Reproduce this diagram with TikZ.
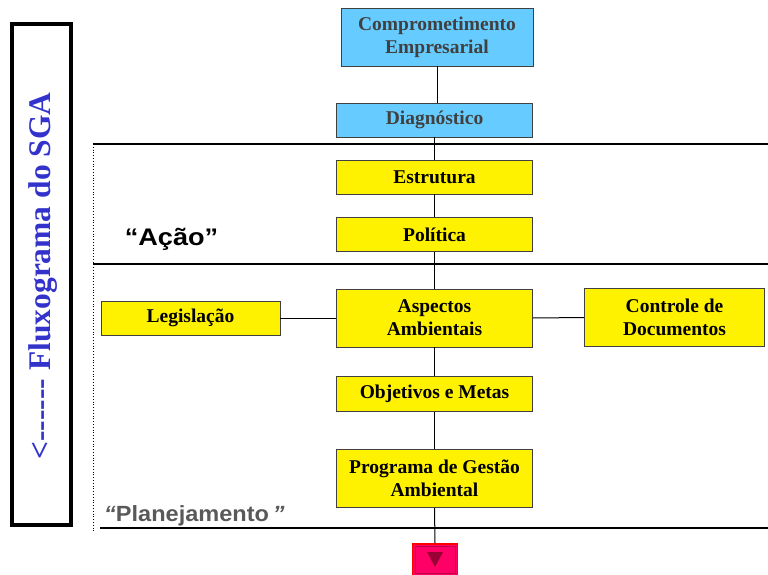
\documentclass[tikz,border=0pt]{standalone}
\usepackage{fontspec}
\setmainfont{Liberation Serif}
\newfontfamily\arialf{Liberation Sans}
\begin{document}
\begin{tikzpicture}[x=1pt,y=-1pt,
  boxbase/.style={draw=black!75,line width=0.9pt,inner sep=0pt,align=center,
    font=\bfseries\fontsize{19.5}{23}\selectfont},
  bluebox/.style={boxbase,fill=skyb,text=txtgray},
  yelbox/.style={boxbase,fill=yellow,text=black},
  conn/.style={draw=black,line width=1pt},
  sepline/.style={draw=black,line width=1.6pt}]
\definecolor{skyb}{HTML}{66CCFF}
\definecolor{txtgray}{HTML}{404040}
\definecolor{sgablue}{HTML}{3333CC}
\definecolor{plgray}{HTML}{595959}
\definecolor{redbox}{HTML}{FF0066}
\definecolor{redtri}{HTML}{990033}
\useasboundingbox (0,0) rectangle (768,575);
% left framed title
\node[draw=black,line width=4pt,minimum width=59pt,minimum height=501pt,inner sep=0pt] (frame) at (41.5,274.5) {};
\node[rotate=90,text=sgablue,font=\bfseries\fontsize{31.5}{34}\selectfont] (title) at (43,276) {<{-}{-}{-}{-}{-}{-} Fluxograma do SGA};
% separators
\coordinate (s1a) at (93,144); \coordinate (s1b) at (768,144);
\coordinate (s2a) at (93,264); \coordinate (s2b) at (768,264);
\coordinate (s3a) at (100,528); \coordinate (s3b) at (768,528);
\coordinate (dota) at (93,144); \coordinate (dotb) at (93,533);
\draw[line width=0.8pt,dotted] (dota) -- (dotb);
\draw[sepline] (s1a) -- (s1b);
\draw[sepline] (s2a) -- (s2b);
\draw[sepline] (s3a) -- (s3b);
% labels
\node[font=\arialf\bfseries\fontsize{24}{26}\selectfont,text=black,xscale=1.13] (acao) at (171.5,239) {“Ação”};
\node[font=\arialf\bfseries\fontsize{22}{24}\selectfont,text=plgray,anchor=west,inner sep=0pt,xscale=1.07] (plan) at (104,516) {\itshape“\upshape Planejamento\itshape\,”};
% boxes
\node[bluebox,minimum width=192pt,minimum height=58pt] (comp) at (437,37) {Comprometimento\\Empresarial};
\node[bluebox,minimum width=196pt,minimum height=34pt] (diag) at (434.5,120) {Diagnóstico};
\node[yelbox,minimum width=196pt,minimum height=34pt] (estr) at (434.5,177) {Estrutura};
\node[yelbox,minimum width=196pt,minimum height=34pt] (poli) at (434.5,234.5) {Política};
\node[yelbox,minimum width=196pt,minimum height=58pt] (asp) at (434.5,318) {Aspectos\\Ambientais};
\node[yelbox,minimum width=179pt,minimum height=34pt] (leg) at (190.5,318) {Legislação};
\node[yelbox,minimum width=180pt,minimum height=58pt] (ctrl) at (674.5,317.5) {Controle de\\Documentos};
\node[yelbox,minimum width=196pt,minimum height=35pt] (obj) at (434.5,394) {Objetivos e Metas};
\node[yelbox,minimum width=196pt,minimum height=58pt] (prog) at (434.5,478.5) {Programa de Gestão\\Ambiental};
% red end box
\node[draw=red,line width=1.2pt,fill=redbox,minimum width=45pt,minimum height=32pt,inner sep=0pt] (endb) at (435,560) {};
\draw[redtri!60!redbox,line width=0.8pt] ([xshift=3pt,yshift=-3pt]endb.north west) rectangle ([xshift=-3pt,yshift=3pt]endb.south east);
\coordinate (t1) at (427,552); \coordinate (t2) at (443,552); \coordinate (t3) at (435,567);
\fill[redtri] (t1) -- (t2) -- (t3) -- cycle;
% connectors
\draw[conn] (comp.south) -- (comp.south |- diag.north);
\draw[conn] (diag.south) -- (estr.north);
\draw[conn] (estr.south) -- (poli.north);
\draw[conn] (poli.south) -- (asp.north);
\draw[conn] (asp.south) -- (obj.north);
\draw[conn] (obj.south) -- (prog.north);
\draw[conn] (prog.south) -- (endb.north);
\draw[conn] (leg.east) -- (asp.west);
\draw[conn] (asp.east) -- (ctrl.west);
\end{tikzpicture}
\end{document}
